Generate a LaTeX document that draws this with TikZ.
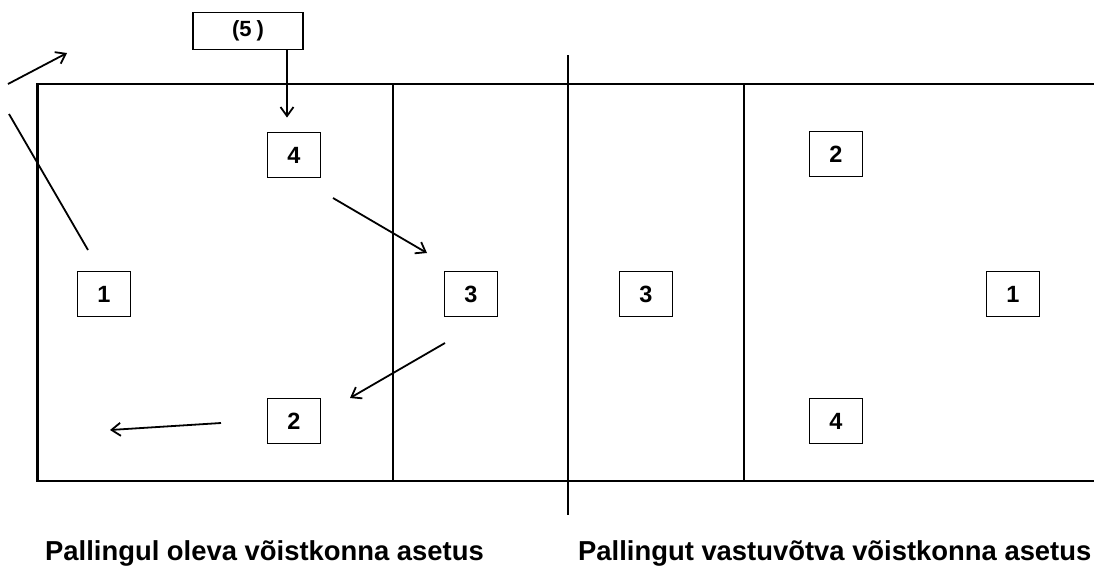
\documentclass[tikz,border=0pt]{standalone}
\usepackage{fontspec}
\setmainfont{Liberation Sans}
\usetikzlibrary{arrows.meta}
\tikzset{
  player/.style={draw,line width=1.9pt,minimum width=53pt,minimum height=45pt,
    inner sep=0pt,font=\fontsize{23.5}{25}\selectfont\bfseries},
  move/.style={line width=1.8pt,-{Straight Barb[length=9pt,width=13pt]}},
  court/.style={line width=2pt}
}
\begin{document}
\begin{tikzpicture}[x=1pt,y=-1pt]
  \useasboundingbox (0,0) rectangle (1094,565);
  % court
  \draw[court] (1094,84) -- (37,84) -- (37,481) -- (1094,481);
  \draw[line width=3pt] (37,84) -- (37,481);
  \draw[court] (393,84) -- (393,481);
  \draw[court] (744,84) -- (744,481);
  \draw[court] (568,55) -- (568,515);
  % serving team
  \node[player] (p4) at (294,155) {4};
  \node[player] (p1) at (104,294) {1};
  \node[player] (p3) at (471,294) {3};
  \node[player] (p2) at (294,421) {2};
  \node[draw,line width=1.9pt,minimum width=110pt,minimum height=37pt,
    font=\fontsize{22}{24}\selectfont\bfseries] (serve) at (248,31) {(5\kern5pt)};
  % receiving team
  \node[player] (r3) at (646,294) {3};
  \node[player] (r2) at (836,154) {2};
  \node[player] (r1) at (1013,294) {1};
  \node[player] (r4) at (836,421) {4};
  % rotation
  \draw[move] (serve.south -| 287,0) -- ([yshift=14pt]p4.north -| 287,0);
  \coordinate (a1) at (333,198);
  \coordinate (a2) at (427,253);
  \coordinate (b1) at (445,343);
  \coordinate (b2) at (350,398);
  \coordinate (c1) at (221,423);
  \coordinate (c2) at (110,430);
  \coordinate (d1) at (88,250);
  \coordinate (d2) at (9,114);
  \coordinate (e1) at (8,84);
  \coordinate (e2) at (67,53);
  \draw[move] (a1) -- (a2);
  \draw[move] (b1) -- (b2);
  \draw[move] (c1) -- (c2);
  \draw[line width=1.8pt] (d1) -- (d2);
  \draw[move] (e1) -- (e2);
  % labels
  \node[anchor=base west,inner sep=0pt,font=\fontsize{27.4}{30}\selectfont\bfseries]
    (lserve) at (45,560) {Pallingul oleva võistkonna asetus};
  \node[anchor=base west,inner sep=0pt,font=\fontsize{27.4}{30}\selectfont\bfseries]
    (lrecv) at (578,560) {Pallingut vastuvõtva võistkonna asetus};
\end{tikzpicture}
\end{document}
